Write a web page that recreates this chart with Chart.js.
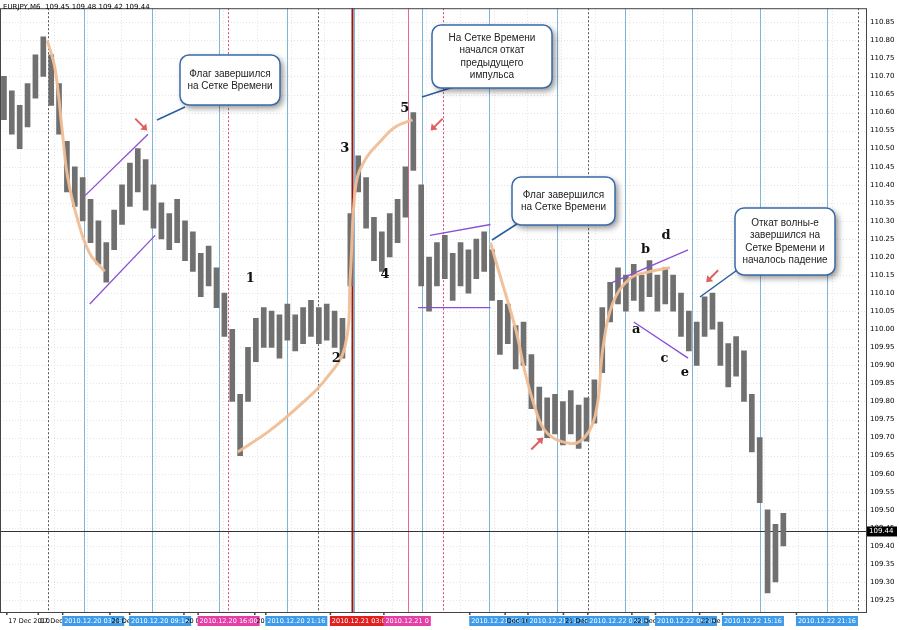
<!DOCTYPE html>
<html><head><meta charset="utf-8">
<script src="https://cdn.jsdelivr.net/npm/chart.js@4.4.0/dist/chart.umd.min.js"></script>
<style>html,body{margin:0;padding:0;background:#fff}#w{width:900px;height:630px}</style>
</head><body><div id="w"><canvas id="c"></canvas></div>
<script>
const barHigh=[110.70,110.66,110.62,110.68,110.76,110.81,110.76,110.68,110.52,110.45,110.42,110.36,110.30,110.24,110.33,110.40,110.46,110.50,110.47,110.40,110.35,110.32,110.36,110.30,110.27,110.21,110.23,110.17,110.10,110.00,109.82,109.95,110.03,110.06,110.05,110.04,110.07,110.04,110.06,110.08,110.06,110.07,110.05,110.03,110.32,110.48,110.42,110.31,110.27,110.32,110.36,110.45,110.60,110.40,110.20,110.24,110.26,110.21,110.24,110.22,110.25,110.27,110.22,110.08,110.07,110.01,110.02,109.93,109.84,109.81,109.82,109.80,109.83,109.79,109.81,109.86,110.06,110.13,110.17,110.15,110.18,110.15,110.19,110.15,110.17,110.15,110.10,110.05,110.02,110.09,110.10,110.02,109.96,109.98,109.94,109.82,109.70,109.50,109.46,109.49];
const barLow=[110.58,110.54,110.50,110.56,110.64,110.70,110.62,110.54,110.38,110.34,110.30,110.24,110.18,110.13,110.22,110.29,110.34,110.38,110.33,110.28,110.25,110.22,110.24,110.19,110.16,110.09,110.12,110.06,109.98,109.80,109.65,109.80,109.91,109.95,109.95,109.92,109.97,109.94,109.96,109.98,109.96,109.97,109.95,109.92,110.12,110.38,110.28,110.19,110.16,110.20,110.24,110.31,110.44,110.12,110.05,110.12,110.14,110.08,110.12,110.10,110.14,110.16,110.08,109.93,109.96,109.89,109.90,109.78,109.72,109.70,109.71,109.68,109.71,109.67,109.69,109.74,109.88,110.02,110.07,110.05,110.08,110.05,110.09,110.05,110.07,110.05,109.98,109.94,109.90,109.98,110.00,109.90,109.84,109.87,109.80,109.66,109.52,109.27,109.30,109.40];
const curve1=[[5.5,110.80],[6.5,110.72],[7.4,110.55],[8.1,110.42],[9.4,110.30],[10.9,110.21],[12.8,110.16]];
const curve2=[[29.7,109.66],[33.8,109.72],[37.6,109.79],[40.8,109.86],[43.3,109.95],[44,110.15],[44.7,110.40],[45.9,110.47],[47.8,110.52],[49.7,110.56],[51.9,110.58]];
const curve3=[[61.8,110.24],[63,110.15],[65,110.00],[66.2,109.88],[67.5,109.78],[68.7,109.72],[70.7,109.69],[73.2,109.69],[75.1,109.76],[76.1,109.95],[77.3,110.07],[79.5,110.14],[82.1,110.16],[84.6,110.17]];
const purpleLines=[[[10.3,110.37],[18.3,110.54]],[[10.9,110.07],[19.2,110.26]],[[54.1,110.26],[61.8,110.29]],[[52.6,110.06],[61.8,110.06]],[[77.3,110.13],[86.9,110.22]],[[80,110.02],[86.9,109.92]]];
const blueV=[10.2,18.8,27.3,36,44.5,53.1,61.6,70.3,78.9,87.4,96,104.6];
const dottedV=[5.6,39.9,74.2,108.5];
const pinkDotV=[28.5,55.8];
const lastPrice=109.44;
const waveLabels=[["1",31.3,110.14],["2",42.2,109.92],["3",43.3,110.50],["4",48.4,110.15],["5",50.9,110.61],["a",80.3,110.00],["b",81.5,110.22],["c",83.9,109.92],["d",84.1,110.26],["e",86.5,109.88]];
const arrows=[[18.2,110.55],[54.2,110.55],[68.5,109.70],[89.2,110.13]];
const xLabels=[[0.3,"17 Dec 2010",""],[4.3,"17 Dec 22",""],[7.4,"2010.12.20 03:16","#3d9be9"],[13.4,"20 Dec 0",""],[15.9,"2010.12.20 09:16","#3d9be9"],[22.8,"20 Dec",""],[24.6,"2010.12.20 16:00","#e43fa6"],[31.8,"20 D",""],[33.2,"2010.12.20 21:16","#3d9be9"],[41.4,"2010.12.21 03:00","#e02020"],[48.2,"2010.12.21 0","#e43fa6"],[59.1,"2010.12.21 05:16","#3d9be9"],[63.6,"Dec 16:4",""],[66.5,"2010.12.21 21:16","#3d9be9"],[71,"21 Dec 23",""],[74.1,"2010.12.22 03:16","#3d9be9"],[79.7,"22 Dec 0",""],[82.7,"2010.12.22 09:16","#3d9be9"],[88.3,"22 De",""],[91.2,"2010.12.22 15:16","#3d9be9"],[100.6,"2010.12.22 21:16","#3d9be9"]];
const callouts=[
 {x:180,y:55,w:100,h:50,lines:["Флаг завершился","на Сетке Времени"],to:[[157,120],[185,107]]},
 {x:432,y:25,w:120,h:63,lines:["На Сетке Времени","начался откат","предыдущего","импульса"],to:[[422,97],[460,85]]},
 {x:512,y:177,w:103,h:48,lines:["Флаг завершился","на Сетке Времени"],to:[[492,240],[520,222]]},
 {x:735,y:208,w:100,h:67,lines:["Откат волны-е","завершился на","Сетке Времени и","началось падение"],to:[[700,297],[740,268]]}
];

const bars=barHigh.map((h,i)=>({x:i,y:[barLow[i],h]}));
const pts=a=>a.map(p=>({x:p[0],y:p[1]}));
const ds=[{type:'bar',data:bars,backgroundColor:'#707070',barThickness:5,order:2}];
[curve1,curve2,curve3].forEach(c=>ds.push({type:'line',data:pts(c),borderColor:'rgba(240,190,150,0.95)',borderWidth:3,pointRadius:0,tension:0.4,order:1}));
purpleLines.forEach(c=>ds.push({type:'line',data:pts(c),borderColor:'#8a4fd6',borderWidth:1.3,pointRadius:0,order:0}));

const deco={id:'deco',
 beforeDatasetsDraw(ch){const c=ch.ctx,a=ch.chartArea,x=ch.scales.x,y=ch.scales.y;c.save();
  c.strokeStyle='#e4e4e4';c.setLineDash([1,2]);c.lineWidth=1;
  for(let v=109.25;v<=110.86;v+=0.05){const py=Math.round(y.getPixelForValue(v))+.5;c.beginPath();c.moveTo(a.left,py);c.lineTo(a.right,py);c.stroke();}
  for(let i=0;i<110;i+=4.3){const px=Math.round(x.getPixelForValue(i+2))+.5;c.beginPath();c.moveTo(px,a.top);c.lineTo(px,a.bottom);c.stroke();}
  const vl=(v,col,dash,w)=>{const px=Math.round(x.getPixelForValue(v))+.5;c.strokeStyle=col;c.lineWidth=w||1;c.setLineDash(dash);c.beginPath();c.moveTo(px,a.top);c.lineTo(px,a.bottom);c.stroke();};
  blueV.forEach(v=>vl(v,'#7fb6d8',[]));
  dottedV.forEach(v=>vl(v,'#555',[2,2]));
  pinkDotV.forEach(v=>vl(v,'#d8467d',[2,2]));
  vl(44.2,'#8b1a1a',[],2);vl(51.3,'#e8689a',[]);
  const py=Math.round(y.getPixelForValue(lastPrice))+.5;c.setLineDash([]);c.strokeStyle='#333';c.beginPath();c.moveTo(a.left,py);c.lineTo(a.right,py);c.stroke();
  c.restore();},
 afterDatasetsDraw(ch){const c=ch.ctx,a=ch.chartArea,x=ch.scales.x,y=ch.scales.y;c.save();
  c.strokeStyle='#444';c.lineWidth=1;c.strokeRect(a.left+.5,a.top+.5,a.right-a.left,a.bottom-a.top);
  c.fillStyle='#111';c.font='bold 13px "DejaVu Serif", serif';c.textAlign='center';c.textBaseline='middle';
  waveLabels.forEach(l=>c.fillText(l[0],x.getPixelForValue(l[1]),y.getPixelForValue(l[2])));
  c.strokeStyle='#e06060';c.fillStyle='#e06060';c.lineWidth=2;
  arrows.forEach((p,k)=>{const px=x.getPixelForValue(p[0]),py=y.getPixelForValue(p[1]);const dx=k==2?-1:(k==0?-1:1),dy=k==2?1:-1;
   const sx=px+dx*12,sy=py+dy*12;c.beginPath();c.moveTo(sx,sy);c.lineTo(px+dx*3,py+dy*3);c.stroke();
   c.beginPath();c.moveTo(px,py);c.lineTo(px+dx*7,py+dy*1);c.lineTo(px+dx*1,py+dy*7);c.closePath();c.fill();});
  callouts.forEach(b=>{c.strokeStyle='#2a5d9f';c.lineWidth=1.5;c.beginPath();c.moveTo(b.to[0][0],b.to[0][1]);c.lineTo(b.to[1][0],b.to[1][1]);c.stroke();
   c.save();c.shadowColor='rgba(0,0,0,0.45)';c.shadowBlur=6;c.shadowOffsetX=3;c.shadowOffsetY=3;
   c.fillStyle='#fff';c.strokeStyle='#3a6aa8';c.lineWidth=1.2;c.beginPath();c.roundRect(b.x,b.y,b.w,b.h,9);c.fill();c.restore();
   c.strokeStyle='#3a6aa8';c.beginPath();c.roundRect(b.x,b.y,b.w,b.h,9);c.stroke();
   c.fillStyle='#222';c.font='10px "Liberation Sans", Arial';c.textAlign='center';c.textBaseline='middle';
   const lh=12.5,st=b.y+b.h/2-(b.lines.length-1)*lh/2;b.lines.forEach((t,i)=>c.fillText(t,b.x+b.w/2,st+i*lh));});
  c.fillStyle='#000';c.font='7px "DejaVu Sans"';c.textAlign='left';c.textBaseline='top';c.fillText('EURJPY,M6  109.45 109.48 109.42 109.44',3,4);
  c.font='6.5px "DejaVu Sans"';c.textBaseline='middle';
  xLabels.forEach(l=>{const px=x.getPixelForValue(l[0]);const w=c.measureText(l[1]).width+4;const yy=a.bottom+9;
   if(l[2]){c.fillStyle=l[2];c.fillRect(px,yy-5,w,10);c.fillStyle='#fff';}else c.fillStyle='#000';c.fillText(l[1],px+2,yy);
   c.strokeStyle='#444';c.beginPath();c.moveTo(px+.5,a.bottom);c.lineTo(px+.5,a.bottom+3);c.stroke();});
  c.font='7px "DejaVu Sans"';
  const py=y.getPixelForValue(lastPrice);c.fillStyle='#000';c.fillRect(a.right+1,py-5,30,10);c.fillStyle='#fff';c.fillText('109.44',a.right+3,py);
  c.restore();}
};

new Chart(document.getElementById('c'),{data:{datasets:ds},plugins:[deco],
 options:{responsive:true,maintainAspectRatio:false,animation:false,events:[],
  layout:{padding:{top:5,bottom:18,left:0,right:0}},
  plugins:{legend:{display:false},tooltip:{enabled:false}},
  scales:{
   x:{type:'linear',offset:false,bounds:'data',min:-0.5,max:109.5,display:false,grid:{display:false,offset:false}},
   y:{type:'linear',position:'right',min:109.217,max:110.889,
    afterBuildTicks(s){const t=[];for(let k=0;k<=32;k++)t.push({value:+(109.25+k*0.05).toFixed(2)});s.ticks=t;},
    afterFit(s){s.width=34;},
    grid:{display:false,drawTicks:false},border:{display:false},
    ticks:{padding:4,color:'#000',font:{size:7,family:'DejaVu Sans'},callback:v=>v.toFixed(2)}}
  }}});
</script></body></html>
